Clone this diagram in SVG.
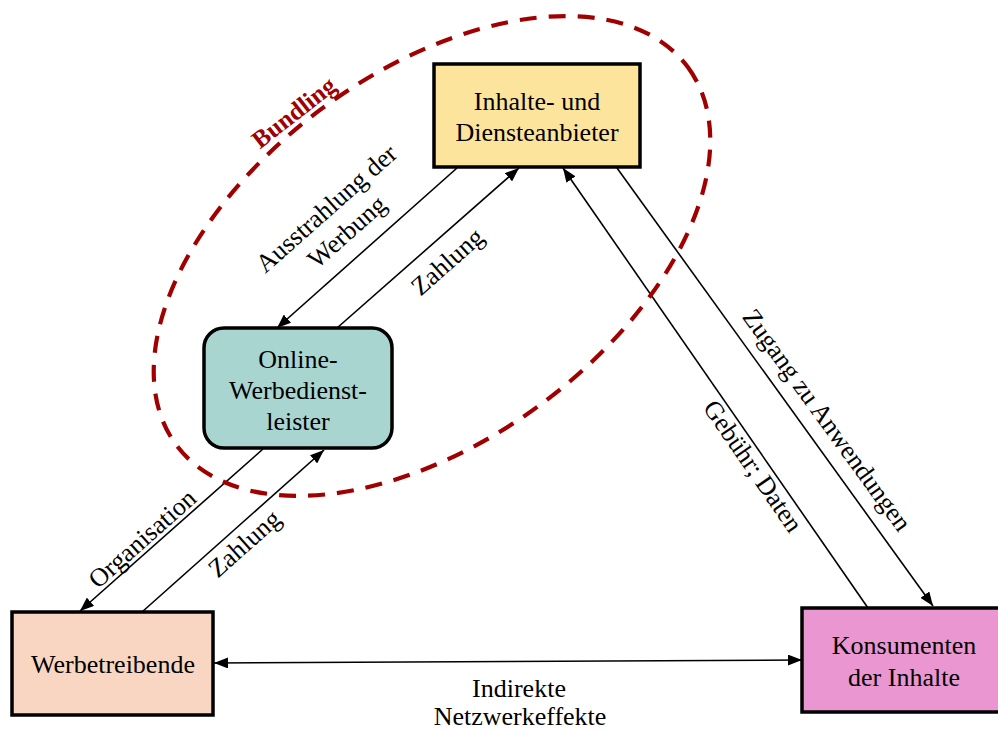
<svg xmlns="http://www.w3.org/2000/svg" width="998" height="731" viewBox="0 0 998 731">
<style>
text{font-family:"Liberation Serif","Times New Roman",serif;font-size:26px;fill:#000;text-anchor:middle}
.box{stroke:#000;stroke-width:3.5}
.ln{stroke:#000;stroke-width:1.6;fill:none;marker-end:url(#ah)}
.bi{marker-start:url(#ah)}
.bund{fill:none;stroke:#A00000;stroke-width:4.2;stroke-dasharray:17 12}
.bl{font-weight:bold;font-size:25px;fill:#A00000}
</style>
<defs>
<marker id="ah" viewBox="0 0 14 11" refX="14" refY="5.5" markerWidth="14" markerHeight="11" markerUnits="userSpaceOnUse" orient="auto-start-reverse">
<path d="M0,0 L14,5.5 L0,11 z" fill="#000"/>
</marker>
</defs>
<rect width="998" height="731" fill="#fff"/>
<g id="connectors">
<line class="ln" x1="457" y1="168" x2="277" y2="328"/>
<line class="ln" x1="337" y1="328" x2="519" y2="168"/>
<line class="ln" x1="263" y1="449" x2="80" y2="611"/>
<line class="ln" x1="142" y1="612" x2="324" y2="450"/>
<line class="ln" x1="868" y1="608" x2="563" y2="168"/>
<line class="ln" x1="617" y1="168" x2="933" y2="606"/>
<line class="ln bi" x1="214" y1="663" x2="802" y2="660"/>
<g transform="translate(332,215) rotate(-41.5)"><text x="0" y="0">Ausstrahlung der</text><text x="0" y="31">Werbung</text></g>
<text transform="translate(453,268) rotate(-41.5)">Zahlung</text>
<text transform="translate(148,545) rotate(-41.7)">Organisation</text>
<text transform="translate(250,550) rotate(-41.7)">Zahlung</text>
<text transform="translate(820,425) rotate(54)">Zugang zu Anwendungen</text>
<text transform="translate(746,471) rotate(55.3)">Gebühr; Daten</text>
<text x="519" y="697">Indirekte</text>
<text x="520" y="725">Netzwerkeffekte</text>
</g>
<g id="bundling">
<ellipse class="bund" cx="432" cy="256" rx="318" ry="184" transform="rotate(-36.4 432 256)"/>
<text class="bl" transform="translate(299,119) rotate(-38)">Bundling</text>
</g>
<g id="anbieter">
<rect class="box" x="434" y="64" width="206" height="103" fill="#FDE49C"/>
<text x="537" y="110">Inhalte- und</text>
<text x="537" y="141">Diensteanbieter</text>
</g>
<g id="werbedienstleister">
<rect class="box" x="204" y="328" width="188" height="120" rx="20" fill="#A9D5D1"/>
<text x="298" y="368">Online-</text>
<text x="298" y="399">Werbedienst-</text>
<text x="298" y="430">leister</text>
</g>
<g id="werbetreibende">
<rect class="box" x="12" y="612" width="201" height="103" fill="#F9D6C1"/>
<text x="113" y="673">Werbetreibende</text>
</g>
<g id="konsumenten">
<rect class="box" x="802" y="608" width="204" height="104" fill="#EA96D0"/>
<text x="904" y="654">Konsumenten</text>
<text x="904" y="686">der Inhalte</text>
</g>
</svg>
